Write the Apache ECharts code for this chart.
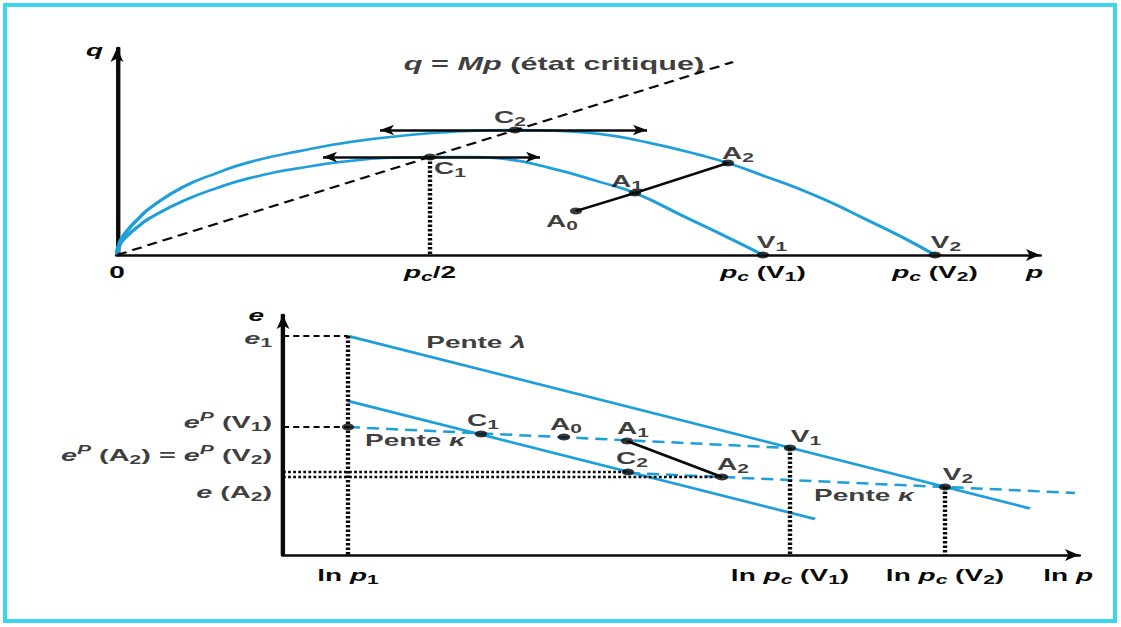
<!DOCTYPE html>
<html>
<head>
<meta charset="utf-8">
<script src="https://cdn.jsdelivr.net/npm/echarts@6/dist/echarts.min.js"></script>
<style>
  html, body { margin: 0; padding: 0; background: #fff; width: 1121px; height: 627px; overflow: hidden; }
  #chart { position: absolute; left: 0; top: 0; width: 640px; height: 627px; transform-origin: 0 0; transform: scaleX(1.7515625); }
  #frame { position: absolute; left: 3px; top: 3px; width: 1114px; height: 620px; box-sizing: border-box; border: 4px solid #3ad6ee; pointer-events: none; }
</style>
</head>
<body>
<div id="chart"></div>
<div id="frame"></div>
<script>
// ---------- plan (p, q) ----------
// surface de charge passant par V1 (p, q)
const surfaceV1 = [[0,0],[0.3,1.1],[1.0,1.9],[2.3,3.0],[3.3,3.7],[6.6,5.4],[10.0,6.7],[13.3,7.7],[18.3,8.7],[23.3,9.4],[28.3,9.75],[31.3,9.8],[35.3,9.8],[38.3,9.65],[43.3,8.7],[48.3,7.3],[51.8,6.2],[56.6,3.9],[61.6,1.5],[64.6,0]];
// surface de charge passant par V2 (p, q)
const surfaceV2 = [[0,0],[0.3,1.3],[1.0,2.4],[2.3,3.8],[3.3,4.7],[6.6,6.8],[10.0,8.2],[13.3,9.3],[18.3,10.4],[23.3,11.3],[28.3,11.9],[33.3,12.3],[39.8,12.5],[44.3,12.4],[48.3,12.1],[53.3,11.2],[58.3,10.0],[61.1,9.2],[65.0,7.8],[68.0,6.7],[71.3,5.3],[74.6,3.7],[78.3,1.9],[81.8,0]];
// droite d'état critique q = Mp
const criticalStateLine = [[0,0],[61.6,19.3]];
// points remarquables
const topPointNames = ['C1','C2','A0','A1','A2','V1','V2'];
const topPointP     = [31.3, 39.8, 45.9, 51.8, 61.1, 64.6, 81.8];
const topPointQ     = [9.8, 12.5, 4.4, 6.2, 9.2, 0, 0];
// tangentes horizontales au sommet des surfaces
const tangentC1 = [[20.6,9.8],[42.3,9.8]];
const tangentC2 = [[26.3,12.5],[53.0,12.5]];
// graduations de l'axe p
const topTickValues = [0, 31.3, 64.6, 81.8];
const topTickLabels = ['0', '{i|p}{is|c}/2', '{i|p}{is|c} (V{s|1})', '{i|p}{is|c} (V{s|2})'];

// ---------- plan (ln p, e) ----------
const lambdaV = [[6.5,21.9],[74.7,4.65]];          // droite de pente lambda (haut)
const lambdaC = [[6.5,15.4],[53.2,3.6]];           // droite de pente lambda (bas)
const kappaV1 = [[6.5,12.8],[50.7,10.7]];          // droite de pente kappa par V1
const kappaV2 = [[34.5,8.2],[43.9,7.8],[66.2,6.8],[79.2,6.2]]; // droite de pente kappa par A2, V2
const bottomPointNames = ['', 'C1', 'A0', 'A1', 'C2', 'A2', 'V1', 'V2'];
const bottomPointLnP   = [6.5, 19.8, 28.1, 34.4, 34.5, 43.9, 50.7, 66.2];
const bottomPointE     = [12.8, 12.1, 11.8, 11.4, 8.3, 7.8, 10.7, 6.8];
const bottomTickValues = [6.5, 50.7, 66.2];
const bottomTickLabels = ['ln {i|p}{s|1}', 'ln {i|p}{is|c} (V{s|1})', 'ln {i|p}{is|c} (V{s|2})'];
const levelValues = [21.9, 12.8, 8.3, 7.8];
const levelLabels = ['{i|e}{s|1}', '{i|e}{sup|P} (V{s|1})', '{i|e}{sup|P} (A{s|2}) = {i|e}{sup|P} (V{s|2})', '{i|e} (A{s|2})'];

// ---------- styles ----------
const SX = 1121 / 640;            // horizontal stretch applied to the drawing
const X = v => v / SX;            // screen px -> drawing px (horizontal)
const INK = '#0a0a0a';
const BLUE = '#1e9fda';
const FONT = '"Liberation Sans", Arial, Helvetica, sans-serif';
function richSet(size) {
  const small = Math.round(size * 0.75);
  return {
    i:   { fontFamily: FONT, fontSize: size, fontWeight: 'bold', fontStyle: 'italic', lineHeight: 22, color: INK },
    s:   { fontFamily: FONT, fontSize: small, fontWeight: 'bold', lineHeight: 9, verticalAlign: 'bottom', color: INK },
    is:  { fontFamily: FONT, fontSize: small, fontWeight: 'bold', fontStyle: 'italic', lineHeight: 9, verticalAlign: 'bottom', color: INK },
    sup: { fontFamily: FONT, fontSize: small, fontWeight: 'bold', fontStyle: 'italic', lineHeight: 9, verticalAlign: 'top', color: INK }
  };
}
const textOf = size => ({ fontFamily: FONT, fontSize: size, fontWeight: 'bold', color: INK, lineHeight: 22, rich: richSet(size) });
const textBase = textOf(16);

const sub = n => n ? n[0] + '{s|' + n.slice(1) + '}' : '';
const pickLabel = (vals, labels) => v => {
  const k = vals.findIndex(t => Math.abs(t - v) < 1e-6);
  return k < 0 ? '' : labels[k];
};

// label placement around the points (screen px)
const topLabelOffset = { C1: [20, 11], C2: [-5, -13], A0: [-14, 10], A1: [-8, -12], A2: [10, -10], V1: [9, -13], V2: [11, -13] };
const bottomLabelOffset = { C1: [2, -14], A0: [2, -13], A1: [6, -13], C2: [4, -14], A2: [11, -13], V1: [16, -12], V2: [13, -13] };
const levelLabelShift = [2, -5, -17, 15];

function line(name, gi, data, color, width, type, extra) {
  return Object.assign({
    type: 'line', name, xAxisIndex: gi, yAxisIndex: gi, data,
    symbol: 'none', silent: true, z: 2,
    lineStyle: { color, width, type: type || 'solid' }
  }, extra || {});
}

const pt = (names, xs, ys, n) => { const k = names.indexOf(n); return [xs[k], ys[k]]; };
const T = n => pt(topPointNames, topPointP, topPointQ, n);
const B = n => pt(bottomPointNames, bottomPointLnP, bottomPointE, n);

const DOT = [2.5, 2];
const DOT_H = [1.6, 1.3];
const DASH_H = [3.5, 2.3];
const DASH_K = [6.9, 4];
const SMOOTH = { smooth: 0.5 };

const series = [
  // plan (p, q)
  line('surfaceV1', 0, surfaceV1, BLUE, 2.5, 'solid', SMOOTH),
  line('surfaceV2', 0, surfaceV2, BLUE, 2.5, 'solid', SMOOTH),
  line('etatCritique', 0, criticalStateLine, INK, 2, [6.2, 3.7]),
  line('cheminA', 0, [T('A0'), T('A1'), T('A2')], INK, 2.5),
  line('pc2', 0, [T('C1'), [T('C1')[0], 0]], INK, 2.5, DOT),
  {
    type: 'lines', coordinateSystem: 'cartesian2d', xAxisIndex: 0, yAxisIndex: 0, silent: true, z: 3,
    symbol: ['arrow', 'arrow'], symbolSize: 8,
    lineStyle: { color: INK, width: 2.5, opacity: 1, curveness: 0 },
    data: [{ coords: tangentC1 }, { coords: tangentC2 }]
  },
  {
    type: 'scatter', name: 'pointsPQ', xAxisIndex: 0, yAxisIndex: 0, z: 5, silent: true,
    symbol: 'circle', symbolSize: 7, itemStyle: { color: INK },
    label: Object.assign({ show: true, position: 'inside', formatter: p => sub(p.name) }, textBase),
    data: topPointNames.map((n, i) => ({
      name: n, value: [topPointP[i], topPointQ[i]],
      label: { offset: [X(topLabelOffset[n][0]), topLabelOffset[n][1]] }
    }))
  },
  {
    type: 'scatter', name: 'notePQ', xAxisIndex: 0, yAxisIndex: 0, z: 6, silent: true, clip: false,
    symbol: 'circle', symbolSize: 1, itemStyle: { color: 'rgba(0,0,0,0)' },
    label: Object.assign({ show: true, position: 'inside', formatter: p => p.name }, textOf(17.5)),
    data: [{ name: '{i|q} = {i|Mp} (état critique)', value: [43.7, 19.1] }]
  },

  // plan (ln p, e)
  line('lambdaV', 1, lambdaV, BLUE, 2.5),
  line('lambdaC', 1, lambdaC, BLUE, 2.5),
  line('kappaV1', 1, kappaV1, BLUE, 2.5, DASH_K),
  line('kappaV2', 1, kappaV2, BLUE, 2.5, DASH_K),
  line('A1A2', 1, [B('A1'), B('A2')], INK, 2.5),
  line('e1', 1, [[0, lambdaV[0][1]], lambdaV[0]], INK, 2, DASH_H),
  line('lnp1', 1, [lambdaV[0], [lambdaV[0][0], 0]], INK, 2.5, DOT),
  line('epV1', 1, [[0, kappaV1[0][1]], kappaV1[0]], INK, 2, DASH_H),
  line('niveauC2', 1, [[0, B('C2')[1]], B('C2')], INK, 2.4, DOT_H),
  line('niveauA2', 1, [[0, B('A2')[1]], B('A2')], INK, 2.4, DOT_H),
  line('lnpcV1', 1, [B('V1'), [B('V1')[0], 0]], INK, 2.5, DOT),
  line('lnpcV2', 1, [B('V2'), [B('V2')[0], 0]], INK, 2.5, DOT),
  {
    type: 'scatter', name: 'pointsE', xAxisIndex: 1, yAxisIndex: 1, z: 5, silent: true,
    symbol: 'circle', symbolSize: 7, itemStyle: { color: INK },
    label: Object.assign({ show: true, position: 'inside', formatter: p => sub(p.name) }, textBase),
    data: bottomPointNames.map((n, i) => ({
      name: n, value: [bottomPointLnP[i], bottomPointE[i]],
      label: { offset: n ? [X(bottomLabelOffset[n][0]), bottomLabelOffset[n][1]] : [0, 0] }
    }))
  },
  {
    type: 'scatter', name: 'niveaux', xAxisIndex: 1, yAxisIndex: 1, z: 6, silent: true, clip: false,
    symbol: 'circle', symbolSize: 1, itemStyle: { color: 'rgba(0,0,0,0)' },
    label: Object.assign({ show: true, position: 'left', distance: X(10), formatter: p => p.name }, textOf(16.5)),
    data: levelValues.map((v, i) => ({ name: levelLabels[i], value: [0, v], label: { offset: [0, levelLabelShift[i]] } }))
  },
  {
    type: 'scatter', name: 'pentes', xAxisIndex: 1, yAxisIndex: 1, z: 6, silent: true, clip: false,
    symbol: 'circle', symbolSize: 1, itemStyle: { color: 'rgba(0,0,0,0)' },
    label: Object.assign({ show: true, position: 'inside', formatter: p => p.name }, textBase),
    data: [
      { name: 'Pente {i|λ}', value: [19.3, 21.3] },
      { name: 'Pente {i|κ}', value: [13.2, 11.5] },
      { name: 'Pente {i|κ}', value: [58.1, 6.0] }
    ]
  }
];

const axisLine = (size) => ({ show: true, onZero: false, lineStyle: { color: INK, width: 2.5 }, symbol: ['none', 'arrow'], symbolSize: size });
const quiet = { axisTick: { show: false }, splitLine: { show: false } };

const option = {
  animation: false,
  backgroundColor: '#ffffff',
  grid: [
    { left: X(117), top: 48, width: X(923), height: 207, containLabel: false, outerBoundsMode: 'none' },
    { left: X(283), top: 315, width: X(796), height: 240, containLabel: false, outerBoundsMode: 'none' }
  ],
  xAxis: [
    Object.assign({
      gridIndex: 0, type: 'value', min: 0, max: 92.3,
      axisLine: axisLine([9, 8]),
      axisLabel: Object.assign({ show: true, customValues: topTickValues, formatter: pickLabel(topTickValues, topTickLabels), margin: 6, showMinLabel: true, showMaxLabel: true, hideOverlap: false }, textBase),
      name: '{i|p}', nameLocation: 'end', nameGap: X(3),
      nameTextStyle: Object.assign({}, textBase, { align: 'right', verticalAlign: 'top', padding: [6, 0, 0, 0] })
    }, quiet),
    Object.assign({
      gridIndex: 1, type: 'value', min: 0, max: 79.6,
      axisLine: axisLine([9, 8]),
      axisLabel: Object.assign({ show: true, customValues: bottomTickValues, formatter: pickLabel(bottomTickValues, bottomTickLabels), margin: 9, showMinLabel: true, showMaxLabel: true, hideOverlap: false }, textBase),
      name: 'ln {i|p}', nameLocation: 'end', nameGap: X(14),
      nameTextStyle: Object.assign({}, textBase, { align: 'right', verticalAlign: 'top', padding: [9, 0, 0, 0] })
    }, quiet)
  ],
  yAxis: [
    Object.assign({
      gridIndex: 0, type: 'value', min: 0, max: 20.7,
      axisLine: axisLine([5.5, 14]), axisLabel: { show: false },
      name: '{i|q}', nameLocation: 'end', nameGap: -2,
      nameTextStyle: Object.assign({}, textBase, { align: 'right', verticalAlign: 'middle', padding: [0, X(14), 0, 0] })
    }, quiet),
    Object.assign({
      gridIndex: 1, type: 'value', min: 0, max: 24.0,
      axisLine: axisLine([5.5, 14]), axisLabel: { show: false },
      name: '{i|e}', nameLocation: 'end', nameGap: 0,
      nameTextStyle: Object.assign({}, textBase, { align: 'right', verticalAlign: 'middle', padding: [0, X(19), 0, 0] })
    }, quiet)
  ],
  series
};

const chart = echarts.init(document.getElementById('chart'), null, { renderer: 'svg', width: 640, height: 627 });
chart.setOption(option);
</script>
</body>
</html>
